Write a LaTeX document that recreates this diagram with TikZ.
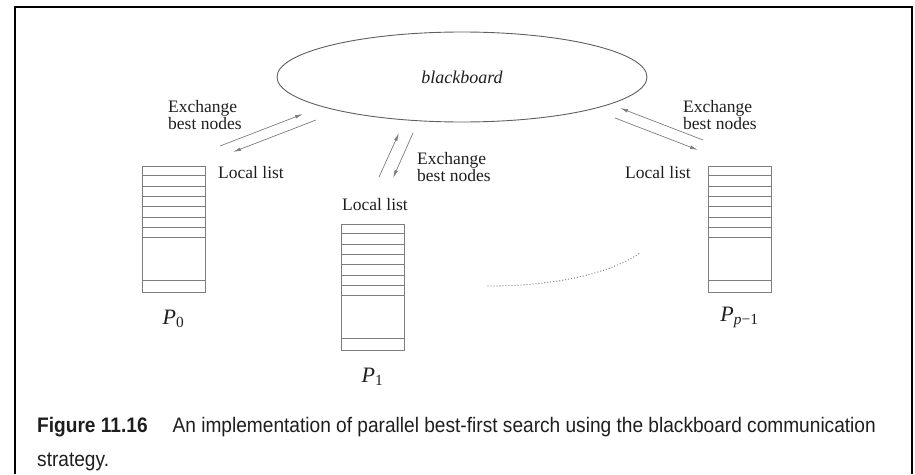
\documentclass[tikz,border=0pt]{standalone}
\usepackage{fontspec}
\setmainfont{Liberation Serif}
\newfontfamily\capfont[FakeStretch=0.91]{Liberation Sans}
\usetikzlibrary{arrows.meta, positioning, shapes.geometric}
\definecolor{linegray}{RGB}{125,125,125}
\definecolor{boardgray}{RGB}{95,95,95}
\definecolor{inkgray}{RGB}{30,30,30}

\begin{document}
\begin{tikzpicture}[x=1pt,y=-1pt,
  board/.style={ellipse,draw=boardgray,line width=0.9pt,minimum width=370pt,
    minimum height=90pt,font=\fontsize{18}{18}\selectfont\itshape,text=inkgray},
  stack/.style={draw=linegray,line width=0.9pt,minimum width=63pt,
    minimum height=126pt,inner sep=0pt},
  cell/.style={draw=linegray,line width=0.9pt},
  xch/.style={-{Latex[length=8pt,width=3.5pt]},draw=linegray,line width=0.7pt},
  lbl/.style={font=\fontsize{17.5}{15}\selectfont,inner sep=0pt,align=left,text=inkgray},
  proc/.style={font=\fontsize{22}{26}\selectfont,text=inkgray}]
  \useasboundingbox (0,0) rectangle (915,474);
  \draw[line width=2pt] (15,474) -- (15,7) -- (912,7) -- (912,474);

  \node[board](bb) at (462,77) {blackboard};

  % local lists
  \node[stack](p0) at (173.5,229) {};
  \node[stack](p1) at (372.5,287) {};
  \node[stack](pp) at (739.5,229) {};
  \foreach \l in {p0,p1,pp} {
    \foreach \k in {1,...,7}
      \draw[cell] ([yshift=-\k*10.3pt]\l.north west) -- ([yshift=-\k*10.3pt]\l.north east);
    \draw[cell] ([yshift=12pt]\l.south west) -- ([yshift=12pt]\l.south east);
  }
  \node[proc,below=14pt of p0](n0){\textit{P}\textsubscript{0}};
  \node[proc,below=14pt of p1](n1){\textit{P}\textsubscript{1}};
  \node[proc,below=11pt of pp](np){\textit{P}\textsubscript{\textit{p}−1}};

  \node[lbl,anchor=base west](ll0) at (218,178) {Local list};
  \node[lbl,anchor=base west](ll1) at (342,210) {Local list};
  \node[lbl,anchor=base west](llp) at (625,178) {Local list};

  \node[lbl,anchor=north west](ex0) at (168,100) {Exchange\\best nodes};
  \node[lbl,anchor=north west](ex1) at (417,152) {Exchange\\best nodes};
  \node[lbl,anchor=north west](exp) at (683,100) {Exchange\\best nodes};

  % arrows to and from the blackboard
  \coordinate (la1) at (220,146); \coordinate (la2) at (303,114);
  \coordinate (lb1) at (316,120); \coordinate (lb2) at (233,152);
  \coordinate (ma1) at (379,177); \coordinate (ma2) at (399,133);
  \coordinate (mb1) at (413,133); \coordinate (mb2) at (393,178);
  \coordinate (ra1) at (703,140); \coordinate (ra2) at (620,108);
  \coordinate (rb1) at (615,118); \coordinate (rb2) at (698,150);
  \draw[xch] (la1) -- (la2);
  \draw[xch] (lb1) -- (lb2);
  \draw[xch] (ma1) -- (ma2);
  \draw[xch] (mb1) -- (mb2);
  \draw[xch] (ra1) -- (ra2);
  \draw[xch] (rb1) -- (rb2);

  \draw[linegray,line width=1.3pt,line cap=round,dash pattern=on 0pt off 3pt]
    (488,286) .. controls (560,286) and (612,272) .. (640,253);

  \node[anchor=north west,inner sep=0pt,align=left,text=inkgray,
    font=\capfont\fontsize{21}{34}\selectfont](cap) at (37,417)
    {\textbf{Figure 11.16}\hspace{25pt}An implementation of parallel best-first search using the blackboard communication\\strategy.};
\end{tikzpicture}
\end{document}
